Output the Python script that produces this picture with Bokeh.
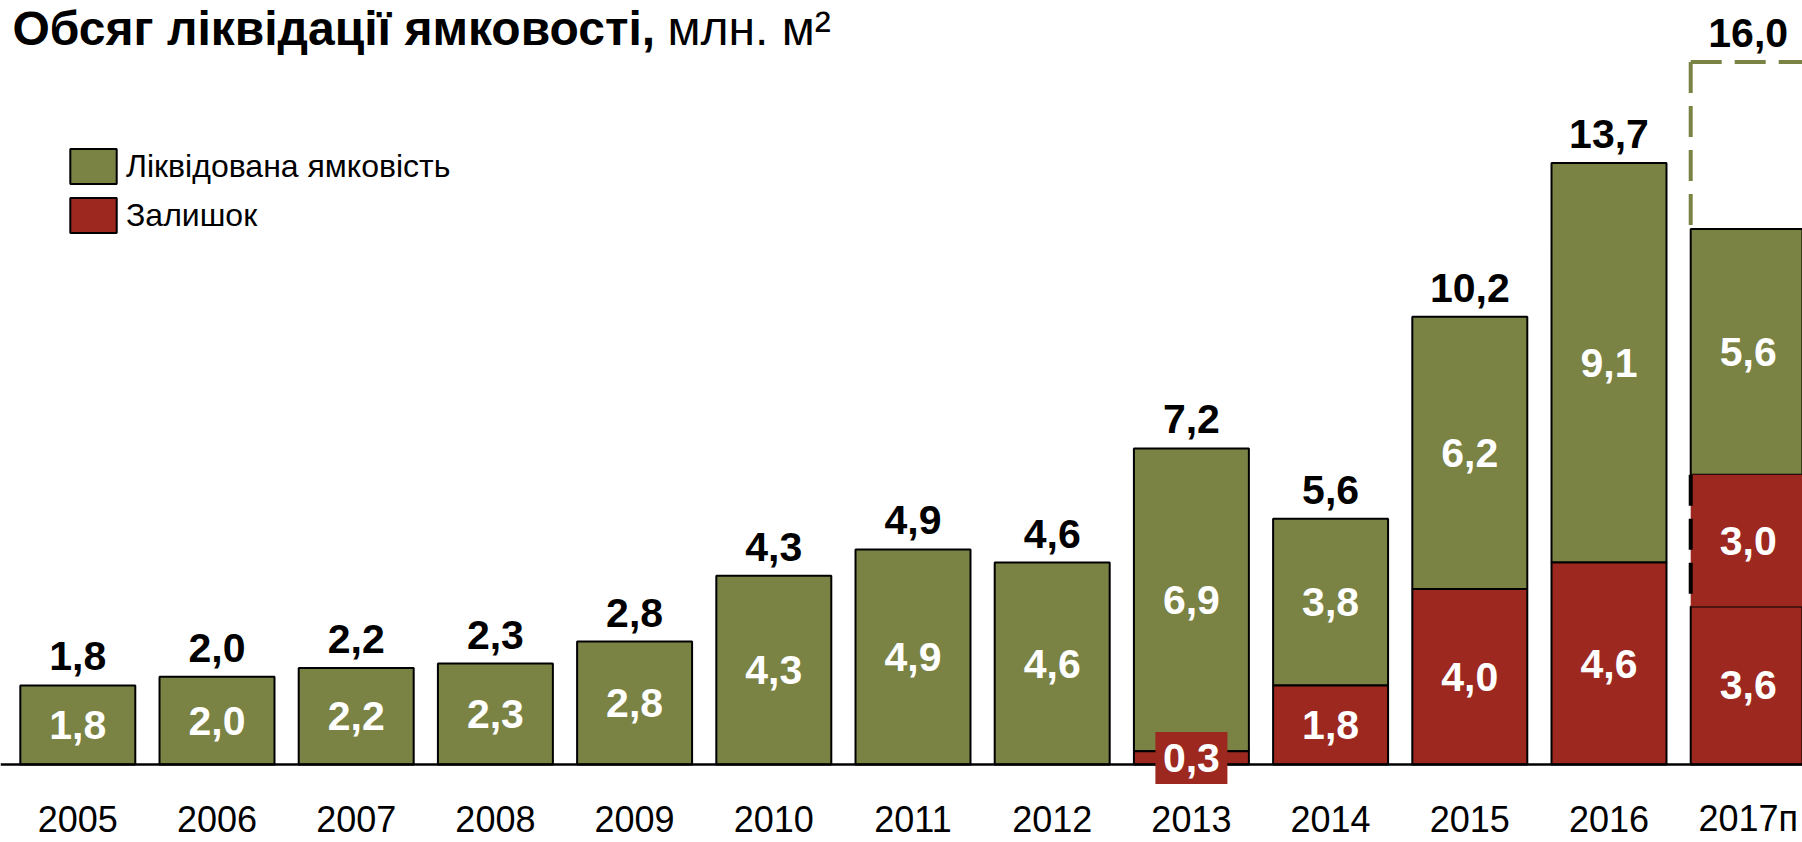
from bokeh.plotting import figure
from bokeh.models import Range1d, Legend, LegendItem, ColumnDataSource
from bokeh.core.properties import value
from bokeh.embed import file_html
from bokeh.resources import INLINE

# ---------------- data ----------------
years = ["2005", "2006", "2007", "2008", "2009", "2010", "2011",
         "2012", "2013", "2014", "2015", "2016", "2017п"]
liquidated = [1.8, 2.0, 2.2, 2.3, 2.8, 4.3, 4.9, 4.6, 6.9, 3.8, 6.2, 9.1, 5.6]
remainder = [0.0, 0.0, 0.0, 0.0, 0.0, 0.0, 0.0, 0.0, 0.3, 1.8, 4.0, 4.6, 3.6]
planned_remainder = [0.0] * 12 + [3.0]
target_2017 = 16.0

title_bold = "Обсяг ліквідації ямковості,"
title_unit = " млн. м²"
legend_labels = ["Ліквідована ямковість", "Залишок"]

# ---------------- style / geometry ----------------
GREEN = "#7A8244"
RED = "#9C2820"
FONT = "Liberation Sans"
W, H = 1802, 842
PX_PER_UNIT = 43.9
BASE_Y = 764.0
PITCH = 139.2
X0 = 77.3
BAR_W = 0.826


def dx(px):
    return (px - X0) / PITCH


def dy(py):
    return (BASE_Y - py) / PX_PER_UNIT


def fmt(v):
    return f"{v:.1f}".replace(".", ",")


n = len(years)
idx = list(range(n))
totals = [liquidated[i] + remainder[i] + planned_remainder[i] for i in idx]

p = figure(width=W, height=H, output_backend="svg", toolbar_location=None,
           x_axis_location=None, y_axis_location=None,
           x_range=Range1d(-X0 / PITCH, (W - X0) / PITCH),
           y_range=Range1d(-(H - BASE_Y) / PX_PER_UNIT, BASE_Y / PX_PER_UNIT),
           min_border=0, outline_line_color=None)
p.grid.visible = False
p.background_fill_color = "white"

# green segments
g_src = ColumnDataSource(dict(
    x=idx,
    bottom=[remainder[i] + planned_remainder[i] for i in idx],
    top=totals))
green_r = p.vbar(x="x", bottom="bottom", top="top", width=BAR_W, source=g_src,
                 fill_color=GREEN, line_color="black", line_width=2)

# red (remainder) segments
r_idx = [i for i in idx if remainder[i] > 0]
r_src = ColumnDataSource(dict(x=r_idx, bottom=[0.0] * len(r_idx),
                              top=[remainder[i] for i in r_idx]))
red_r = p.vbar(x="x", bottom="bottom", top="top", width=BAR_W, source=r_src,
               fill_color=RED, line_color="black", line_width=2)

# planned remainder segment (2017)
pl_idx = [i for i in idx if planned_remainder[i] > 0]
pl_src = ColumnDataSource(dict(x=pl_idx,
                               bottom=[remainder[i] for i in pl_idx],
                               top=[remainder[i] + planned_remainder[i] for i in pl_idx]))
p.vbar(x="x", bottom="bottom", top="top", width=BAR_W, source=pl_src,
       fill_color=RED, line_color=None)

# baseline
p.hspan(y=[0], line_color="black", line_width=2.5)

# dashed target outline for 2017
last = n - 1
xl = last - BAR_W / 2
p.line(x=[xl, xl], y=[target_2017, totals[last]], line_color=GREEN,
       line_width=4, line_dash="31 13")
p.line(x=[xl, p.x_range.end + 1], y=[target_2017, target_2017], line_color=GREEN,
       line_width=4, line_dash="31 13")
p.line(x=[xl, xl], y=[remainder[last] + planned_remainder[last], remainder[last]],
       line_color="black", line_width=4, line_dash="31 13")

# small-segment label box (values too small to hold their label)
small = [i for i in r_idx if remainder[i] < 0.5]
p.rect(x=small, y=[remainder[i] / 2 for i in small], width=72, height=52,
       width_units="screen", height_units="screen", fill_color=RED, line_color=None)

# inner labels (white)
in_x, in_y, in_t = [], [], []
for i in idx:
    b = remainder[i] + planned_remainder[i]
    in_x.append(i); in_y.append(b + liquidated[i] / 2); in_t.append(fmt(liquidated[i]))
    if remainder[i] > 0:
        in_x.append(i); in_y.append(remainder[i] / 2); in_t.append(fmt(remainder[i]))
    if planned_remainder[i] > 0:
        in_x.append(i); in_y.append(remainder[i] + planned_remainder[i] / 2)
        in_t.append(fmt(planned_remainder[i]))
p.text(x=in_x, y=in_y, text=in_t, text_color="white", text_font=value(FONT),
       text_font_size="41px", text_font_style="bold", text_align="center",
       text_baseline="middle")

# top labels (black), centred ~29 px above the bar top
LIFT = 29 / PX_PER_UNIT
top_x = idx[:-1] + [last]
top_y = [v + LIFT for v in totals[:-1]] + [target_2017 + LIFT]
top_t = [fmt(v) for v in totals[:-1]] + [fmt(target_2017)]
p.text(x=top_x, y=top_y, text=top_t, text_color="black", text_font=value(FONT),
       text_font_size="41px", text_font_style="bold", text_align="center",
       text_baseline="middle")

# category labels (kept just inside the bottom edge)
p.text(x=idx, y=[dy(818)] * n, text=years, text_color="black", text_font=value(FONT),
       text_font_size="36px", text_align="center", text_baseline="middle")

# title (kept just inside the top edge)
p.text(x=[dx(12)], y=[dy(1)], text=[title_bold], text_color="black",
       text_font=value(FONT), text_font_size="48px", text_font_style="bold",
       text_align="left", text_baseline="top")
p.text(x=[dx(667)], y=[dy(1)], text=[title_unit], text_color="black",
       text_font=value(FONT), text_font_size="48px", text_font_style="normal",
       text_align="left", text_baseline="top")

legend = Legend(items=[LegendItem(label=legend_labels[0], renderers=[green_r]),
                       LegendItem(label=legend_labels[1], renderers=[red_r])],
                location=(64, 605), glyph_width=58, glyph_height=44,
                label_text_font=FONT, label_text_font_size="32px",
                label_text_color="black",
                label_standoff=4, spacing=5, padding=0, margin=0,
                border_line_alpha=0, background_fill_alpha=0,
                label_height=44)
p.add_layout(legend)

open("out.html", "w").write(file_html(p, INLINE))
